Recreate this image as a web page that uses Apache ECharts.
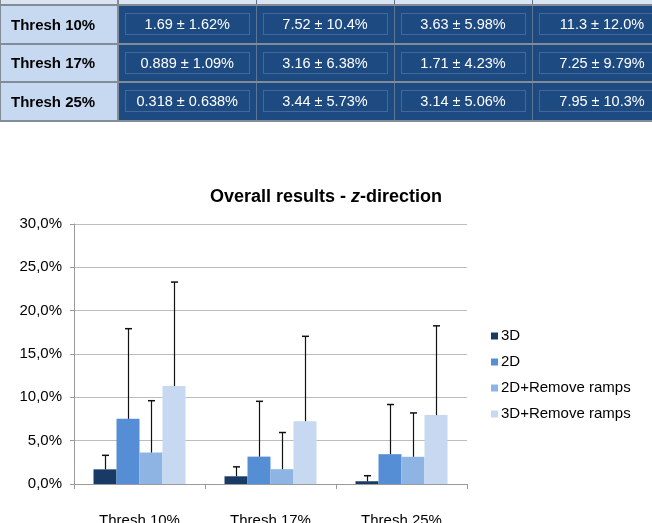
<!DOCTYPE html>
<html>
<head>
<meta charset="utf-8">
<script src="https://cdn.jsdelivr.net/npm/echarts@6/dist/echarts.min.js"></script>
<style>
  html, body { margin: 0; padding: 0; background: #fff; }
  #wrap { position: relative; width: 652px; height: 523px; overflow: hidden; }
  #chart { position: absolute; left: 0; top: 0; width: 652px; height: 523px; }
  #tbl { position: absolute; left: -1px; top: -31px; border-collapse: collapse; table-layout: fixed; width: 672px; font-family: "Liberation Sans", Arial, sans-serif; }
  #tbl td { border: 2px solid #838b96; height: 36.5px; padding: 0; }
  #tbl td.head { background: #c6d9f1; color: #000; font-weight: bold; font-size: 15px; padding-left: 10px; text-align: left; }
  #tbl td.cell { background: #1d4a80; color: #fff; font-size: 14.5px; text-align: center; border-left: 1px solid #5d7696; border-right: 1px solid #5d7696; }
  #tbl td.cell div { margin: 0 6px; border: 1px solid rgba(150,180,220,0.3); height: 20px; line-height: 20px; }
  #tbl tr.top td { background: #dbe5f1; height: 33px; }
</style>
</head>
<body>
<div id="wrap">
  <div id="chart"></div>
  <table id="tbl">
    <colgroup><col style="width:118px"><col style="width:138px"><col style="width:138px"><col style="width:138px"><col style="width:140px"></colgroup>
    <tbody id="tbody"></tbody>
  </table>
</div>
<script>
var categories = ['Thresh 10%', 'Thresh 17%', 'Thresh 25%'];
var seriesNames = ['3D', '2D', '2D+Remove ramps', '3D+Remove ramps'];
var colors = ['#1a3a66', '#558ed5', '#8db4e2', '#c6d9f1'];
// mean values (%)
var mean3D = [1.69, 0.889, 0.318];
var mean2D = [7.52, 3.16, 3.44];
var mean2DRR = [3.63, 1.71, 3.14];
var mean3DRR = [11.3, 7.25, 7.95];
// standard deviation (%)
var sd3D = [1.62, 1.09, 0.638];
var sd2D = [10.4, 6.38, 5.73];
var sd2DRR = [5.98, 4.23, 5.06];
var sd3DRR = [12.0, 9.79, 10.3];
// labels as printed in the table
var meanText = [['1.69', '0.889', '0.318'], ['7.52', '3.16', '3.44'], ['3.63', '1.71', '3.14'], ['11.3', '7.25', '7.95']];
var sdText = [['1.62%', '1.09%', '0.638%'], ['10.4%', '6.38%', '5.73%'], ['5.98%', '4.23%', '5.06%'], ['12.0%', '9.79%', '10.3%']];

var means = [mean3D, mean2D, mean2DRR, mean3DRR];
var sds = [sd3D, sd2D, sd2DRR, sd3DRR];

// table on top
var tbody = document.getElementById('tbody');
var html = '<tr class="top"><td class="head"></td><td class="cell"></td><td class="cell"></td><td class="cell"></td><td class="cell"></td></tr>';
for (var r = 0; r < categories.length; r++) {
	html += '<tr><td class="head">' + categories[r] + '</td>';
	for (var c = 0; c < 4; c++) {
		html += '<td class="cell"><div>' + meanText[c][r] + ' \u00b1 ' + sdText[c][r] + '</div></td>';
	}
	html += '</tr>';
}
tbody.innerHTML = html;

var barW = 23;
var series = [];
for (var i = 0; i < 4; i++) {
	series.push({
		name: seriesNames[i],
		type: 'bar',
		barWidth: barW,
		barGap: '0%',
		itemStyle: { color: colors[i] },
		data: means[i]
	});
}
for (var k = 0; k < 4; k++) {
	(function(idx) {
		var errData = [];
		for (var j = 0; j < categories.length; j++) {
			errData.push([j, means[idx][j], means[idx][j] + sds[idx][j]]);
		}
		series.push({
			type: 'custom',
			name: 'err' + idx,
			z: 10,
			data: errData,
			renderItem: function(params, api) {
				var base = api.coord([api.value(0), api.value(1)]);
				var top = api.coord([api.value(0), api.value(2)]);
				var x = Math.round(base[0] + (idx - 1.5) * barW) + 0.5;
				return {
					type: 'group',
					children: [
						{ type: 'line', shape: { x1: x, y1: base[1], x2: x, y2: top[1] }, style: { stroke: '#111', lineWidth: 1.2 } },
						{ type: 'line', shape: { x1: x - 3.5, y1: top[1], x2: x + 3.5, y2: top[1] }, style: { stroke: '#111', lineWidth: 1.5 } }
					]
				};
			}
		});
	})(k);
}

var eChart = echarts.init(document.getElementById('chart'));
eChart.setOption({
	animation: false,
	title: {
		text: 'Overall results - {i|z}-direction',
		left: 'center',
		top: 183,
		textStyle: {
			fontFamily: 'Liberation Sans', fontSize: 18, fontWeight: 'bold', color: '#000',
			rich: { i: { fontFamily: 'Liberation Sans', fontSize: 18, fontWeight: 'bold', fontStyle: 'italic', color: '#000' } }
		}
	},
	legend: {
		data: seriesNames,
		orient: 'vertical',
		left: 486,
		top: 323,
		itemWidth: 7,
		itemHeight: 7,
		itemGap: 10,
		icon: 'rect',
		textStyle: { fontFamily: 'Liberation Sans', fontSize: 15, color: '#000', lineHeight: 16, padding: [0, 0, 0, -2] }
	},
	grid: { left: 74, right: 185, top: 224, bottom: 39, outerBoundsMode: 'none' },
	xAxis: {
		type: 'category',
		data: categories,
		axisLine: { lineStyle: { color: '#9a9a9a' } },
		axisTick: { show: true, length: 5, lineStyle: { color: '#9a9a9a' } },
		axisLabel: { margin: 29, fontFamily: 'Liberation Sans', fontSize: 15, color: '#000' }
	},
	yAxis: {
		type: 'value',
		min: 0,
		max: 30,
		interval: 5,
		axisLine: { show: true, lineStyle: { color: '#9a9a9a' } },
		axisTick: { show: true, length: 4, lineStyle: { color: '#9a9a9a' } },
		splitLine: { lineStyle: { color: '#bdbdbd' } },
		axisLabel: {
			margin: 12,
			fontFamily: 'Liberation Sans',
			fontSize: 15,
			color: '#000',
			formatter: function(v) { return v.toFixed(1).replace('.', ',') + '%'; }
		}
	},
	series: series
});
</script>
</body>
</html>
